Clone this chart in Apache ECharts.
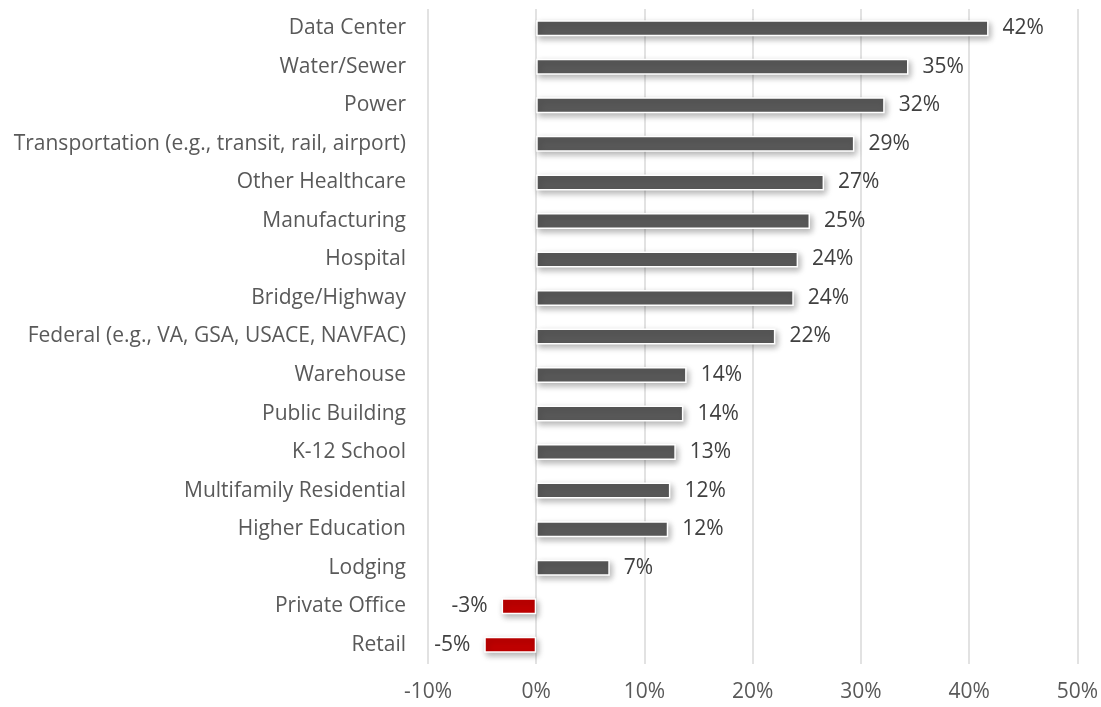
<!DOCTYPE html>
<html>
<head>
<meta charset="utf-8">
<script src="https://cdn.jsdelivr.net/npm/echarts@6/dist/echarts.min.js"></script>
<style>
  html, body { margin: 0; padding: 0; background: #fff; }
  #chart { width: 1101px; height: 707px; }
</style>
</head>
<body>
<div id="chart"></div>
<script>
// categories top to bottom
var categories = [
  'Data Center', 'Water/Sewer', 'Power', 'Transportation (e.g., transit, rail, airport)',
  'Other Healthcare', 'Manufacturing', 'Hospital', 'Bridge/Highway',
  'Federal (e.g., VA, GSA, USACE, NAVFAC)', 'Warehouse', 'Public Building', 'K-12 School',
  'Multifamily Residential', 'Higher Education', 'Lodging', 'Private Office', 'Retail'
];
var values = [41.8, 34.4, 32.2, 29.4, 26.6, 25.3, 24.2, 23.8, 22.1, 13.9, 13.6, 12.9, 12.4, 12.2, 6.8, -3.2, -4.8];
var labels = ['42%', '35%', '32%', '29%', '27%', '25%', '24%', '24%', '22%', '14%', '14%', '13%', '12%', '12%', '7%', '-3%', '-5%'];

var chart = echarts.init(document.getElementById('chart'));
var font = 'Open Sans, Noto Sans, sans-serif';

var data = values.map(function (v, i) {
  var neg = v < 0;
  return {
    value: v,
    itemStyle: { color: neg ? '#C00000' : '#595959' },
    label: { position: neg ? 'left' : 'right', formatter: labels[i] }
  };
});

var option = {
  animation: false,
  grid: { left: 428, right: 23, top: 9, bottom: 43 },
  xAxis: {
    type: 'value',
    min: -10,
    max: 50,
    interval: 10,
    axisLine: { show: false },
    axisTick: { show: false },
    splitLine: { lineStyle: { color: '#d9d9d9', width: 1.5 } },
    axisLabel: {
      formatter: '{value}%',
      color: '#595959',
      fontSize: 21,
      fontFamily: font,
      margin: 18
    }
  },
  yAxis: {
    type: 'category',
    data: categories,
    inverse: true,
    axisLine: { show: false },
    axisTick: { show: false },
    axisLabel: {
      color: '#595959',
      fontSize: 21,
      fontFamily: font,
      margin: 22
    }
  },
  series: [{
    type: 'bar',
    data: data,
    barWidth: 16,
    itemStyle: {
      borderColor: '#ffffff',
      borderWidth: 1.5,
      shadowBlur: 6,
      shadowOffsetX: 2,
      shadowOffsetY: 3,
      shadowColor: 'rgba(0,0,0,0.3)'
    },
    label: {
      show: true,
      distance: 14,
      color: '#404040',
      fontSize: 21,
      fontFamily: font
    }
  }]
};

chart.setOption(option);
</script>
</body>
</html>
